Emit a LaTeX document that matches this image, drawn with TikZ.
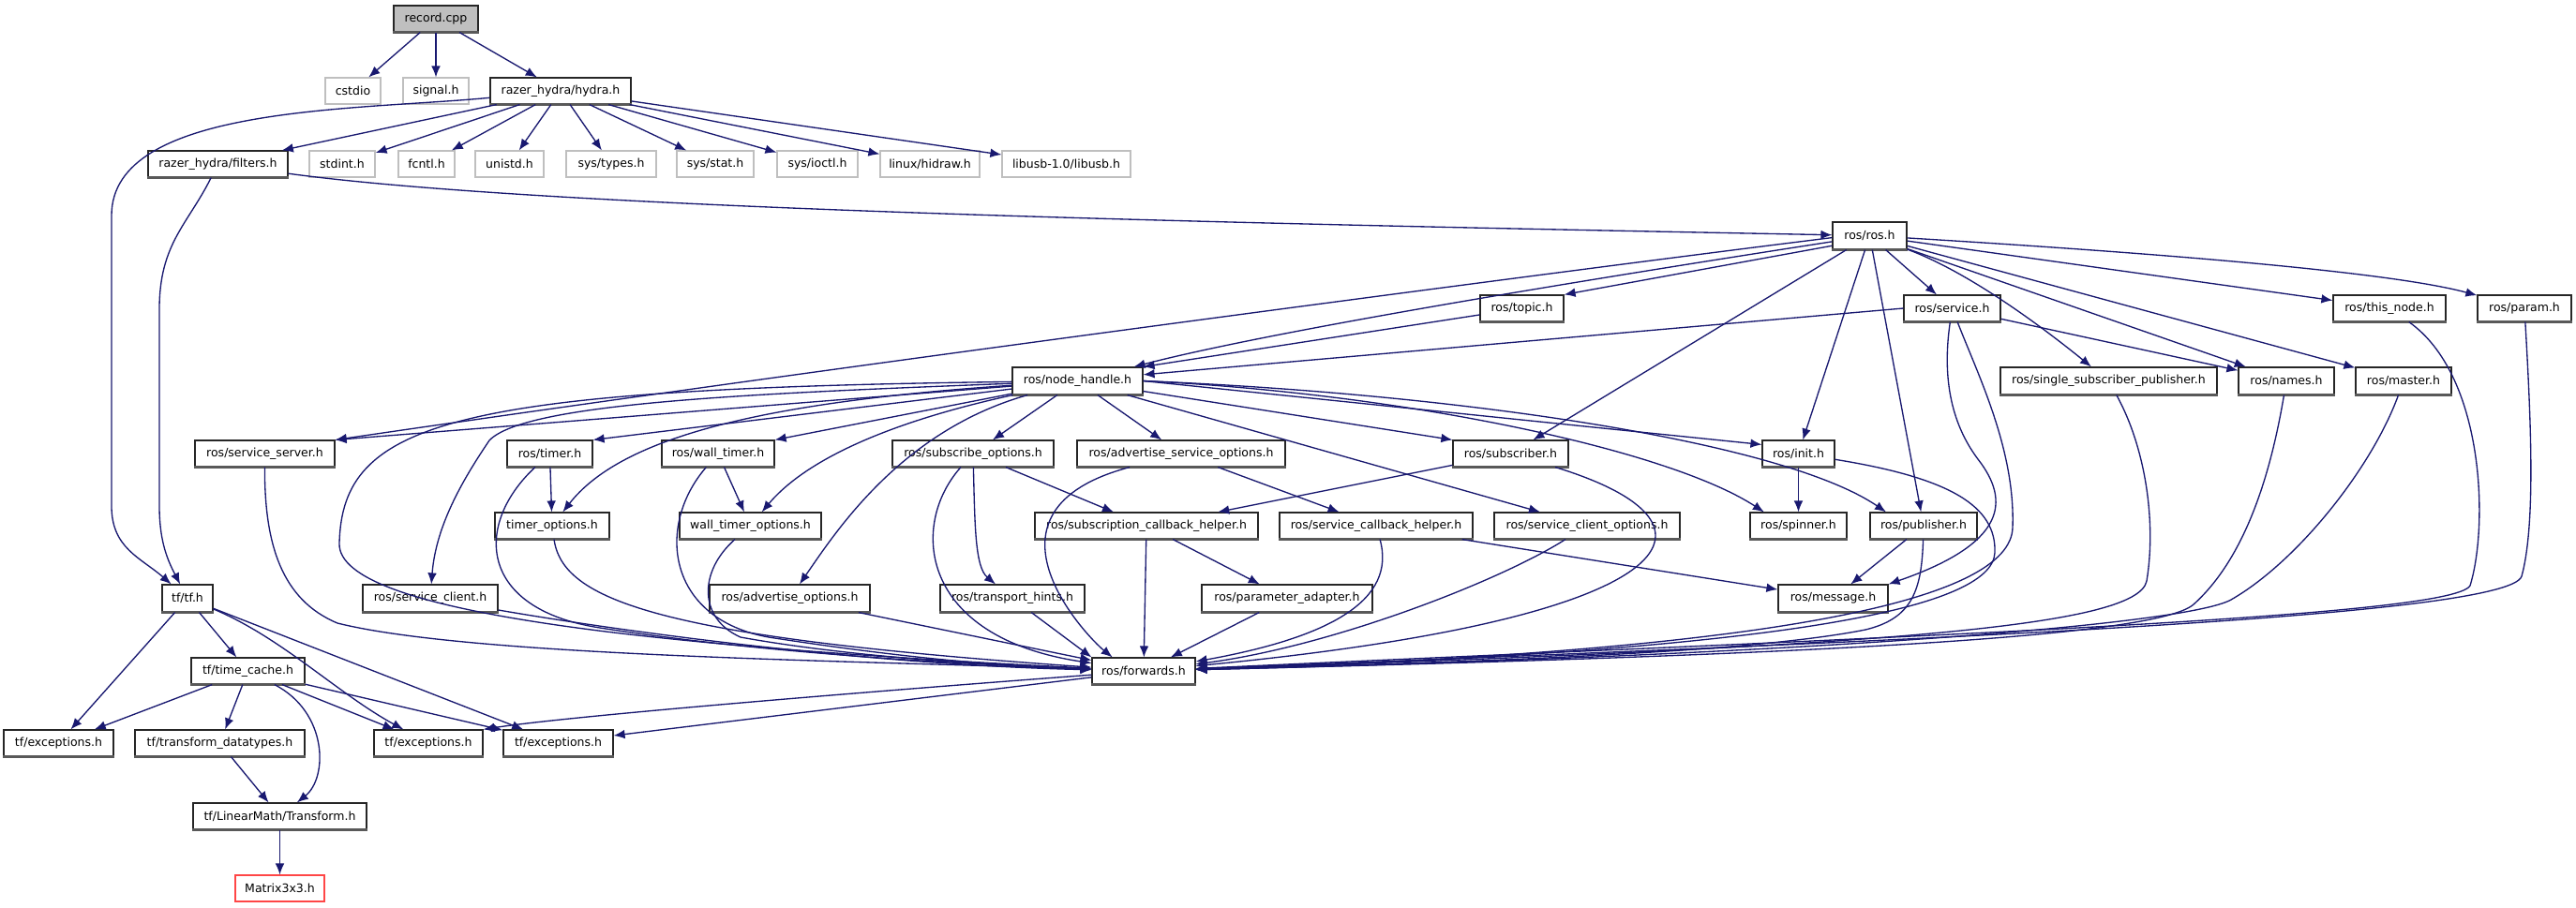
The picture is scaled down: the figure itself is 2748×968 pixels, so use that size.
\documentclass[tikz,border=0pt]{standalone}
\usepackage{fontspec}
\newfontfamily\dxfont{DejaVu Sans}
\usetikzlibrary{arrows.meta,calc}
\definecolor{edgec}{RGB}{25,25,112}
\definecolor{sysg}{RGB}{191,191,191}
\definecolor{redb}{RGB}{255,70,70}
\tikzset{
  basebox/.style={line width=0.35pt, fill=white, inner sep=0pt, font=\dxfont\fontsize{3.75pt}{4.5pt}\selectfont},
  hdr/.style={basebox, draw=black!85,
    append after command={(\tikzlastnode.south west) edge[draw=black!65,line width=0.7pt,-] (\tikzlastnode.south east)}},
  sys/.style={basebox, draw=sysg},
  rootn/.style={hdr, fill=sysg},
  redn/.style={basebox, draw=redb},
  ed/.style={draw=edgec, line width=0.4pt, -{Latex[length=3.6pt,width=2.9pt]}},
}
\newcommand\bx[7][hdr]{%
  \pgfmathsetmacro\bxw{(#5-#3)*0.3}%
  \pgfmathsetmacro\bxh{(#6-#4)*0.3}%
  \node[#1, minimum width=\bxw pt, minimum height=\bxh pt] (#2) at ({(#3+#5)/2},{(#4+#6)/2}) {#7};}
\begin{document}
\begin{tikzpicture}[x=0.3pt,y=-0.3pt]
\path[use as bounding box, fill=white] (0,0) rectangle (2748,968);
% nodes
\bx[rootn]{record}{420}{6}{510}{34}{record.cpp}
\bx[sys]{cstdio}{347}{83}{406}{111}{cstdio}
\bx[sys]{signal}{430}{83}{500}{111}{signal.h}
\bx{hydra}{523}{83}{673}{111}{razer\_hydra/hydra.h}
\bx{filters}{158}{161}{307}{189}{razer\_hydra/filters.h}
\bx[sys]{stdint}{330}{161}{400}{189}{stdint.h}
\bx[sys]{fcntl}{425}{161}{485}{189}{fcntl.h}
\bx[sys]{unistd}{507}{161}{580}{189}{unistd.h}
\bx[sys]{systypes}{604}{161}{700}{189}{sys/types.h}
\bx[sys]{sysstat}{722}{161}{804}{189}{sys/stat.h}
\bx[sys]{sysioctl}{829}{161}{915}{189}{sys/ioctl.h}
\bx[sys]{hidraw}{939}{161}{1045}{189}{linux/hidraw.h}
\bx[sys]{libusb}{1069}{161}{1206}{189}{libusb-1.0/libusb.h}
\bx{ros}{1955}{237}{2034}{266}{ros/ros.h}
\bx{topic}{1579}{315}{1668}{343}{ros/topic.h}
\bx{service}{2031}{315}{2134}{343}{ros/service.h}
\bx{thisnode}{2489}{315}{2609}{343}{ros/this\_node.h}
\bx{param}{2643}{315}{2743}{343}{ros/param.h}
\bx{nh}{1080}{392}{1219}{421}{ros/node\_handle.h}
\bx{ssp}{2134}{392}{2365}{421}{ros/single\_subscriber\_publisher.h}
\bx{names}{2388}{392}{2490}{421}{ros/names.h}
\bx{master}{2513}{392}{2615}{421}{ros/master.h}
\bx{ssrv}{208}{470}{357}{498}{ros/service\_server.h}
\bx{timer}{541}{470}{632}{498}{ros/timer.h}
\bx{wtimer}{706}{470}{826}{498}{ros/wall\_timer.h}
\bx{subopt}{952}{470}{1124}{498}{ros/subscribe\_options.h}
\bx{advsrvopt}{1149}{470}{1371}{498}{ros/advertise\_service\_options.h}
\bx{subscriber}{1550}{470}{1673}{498}{ros/subscriber.h}
\bx{init}{1880}{470}{1957}{498}{ros/init.h}
\bx{timeropt}{528}{547}{650}{575}{timer\_options.h}
\bx{wtimeropt}{725}{547}{876}{575}{wall\_timer\_options.h}
\bx{subcb}{1104}{547}{1342}{575}{ros/subscription\_callback\_helper.h}
\bx{srvcb}{1365}{547}{1571}{575}{ros/service\_callback\_helper.h}
\bx{srvclopt}{1594}{547}{1792}{575}{ros/service\_client\_options.h}
\bx{spinner}{1867}{547}{1970}{575}{ros/spinner.h}
\bx{publisher}{1995}{547}{2109}{575}{ros/publisher.h}
\bx{tf}{173}{624}{227}{653}{tf/tf.h}
\bx{srvcl}{387}{624}{531}{653}{ros/service\_client.h}
\bx{advopt}{757}{624}{928}{653}{ros/advertise\_options.h}
\bx{transp}{1003}{624}{1157}{653}{ros/transport\_hints.h}
\bx{padapt}{1282}{624}{1464}{653}{ros/parameter\_adapter.h}
\bx{message}{1897}{624}{2014}{653}{ros/message.h}
\bx{timecache}{204}{702}{325}{730}{tf/time\_cache.h}
\bx{fwd}{1165}{702}{1275}{730}{ros/forwards.h}
\bx{exca}{4}{779}{121}{807}{tf/exceptions.h}
\bx{tdt}{144}{779}{325}{807}{tf/transform\_datatypes.h}
\bx{excb}{399}{779}{515}{807}{tf/exceptions.h}
\bx{excc}{537}{779}{654}{807}{tf/exceptions.h}
\bx{transform}{206}{857}{391}{885}{tf/LinearMath/Transform.h}
\bx[redn]{matrix}{251}{934}{346}{962}{Matrix3x3.h}
% record / hydra
\draw[ed] (record) -- (cstdio);
\draw[ed] (record) -- (signal);
\draw[ed] (record) -- (hydra);
\draw[ed] (hydra) .. controls (380,118) and (119,112) .. (119,230) -- (119,540) .. controls (119,585) and (150,595) .. (tf);
\draw[ed] (hydra) -- (filters);
\foreach \n in {stdint,fcntl,unistd,systypes,sysstat,sysioctl,hidraw,libusb}
  \draw[ed] (hydra) -- (\n);
\draw[ed] (filters) .. controls (200,240) and (170,260) .. (170,330) -- (170,540) .. controls (170,580) and (180,600) .. (tf);
\draw[ed] (filters) .. controls (600,225) and (1400,240) .. (ros);
% ros
\draw[ed] (ros.183) .. controls (1700,285) and (900,390) .. (ssrv.north east);
\draw[ed] (ros.189) .. controls (1650,305) and (1350,355) .. ([xshift=-3pt]nh.north east);
\draw[ed] (ros.195) -- (topic.north east);
\draw[ed] (ros) -- (subscriber);
\draw[ed] (ros) -- (init);
\draw[ed] (ros) -- (publisher);
\draw[ed] (ros) -- (service);
\draw[ed] (ros) .. controls (2100,290) and (2180,350) .. (ssp);
\draw[ed] (ros) -- (names);
\draw[ed] (ros) -- (master);
\draw[ed] (ros) -- (thisnode);
\draw[ed] (ros) .. controls (2300,270) and (2550,290) .. (param);
\draw[ed] (topic) -- (nh.north east);
\draw[ed] (service.west) -- ([yshift=2pt]nh.east);
\draw[ed] (service) -- (names);
\draw[ed] (service) .. controls (2072,400) and (2080,450) .. (2110,490) .. controls (2145,535) and (2140,580) .. (message.north east);
% node_handle
\draw[ed] (nh) -- (ssrv.north east);
\draw[ed] (nh) -- (timer.north east);
\draw[ed] (nh) -- (wtimer.north east);
\draw[ed] (nh) .. controls (800,430) and (660,470) .. (timeropt);
\draw[ed] (nh) .. controls (950,450) and (860,490) .. (wtimeropt);
\draw[ed] (nh) .. controls (800,420) and (560,430) .. (522,470) .. controls (495,510) and (465,560) .. (srvcl);
\draw[ed] (nh) .. controls (960,460) and (890,570) .. (advopt);
\draw[ed] (nh) .. controls (480,415) and (365,450) .. (362,580) .. controls (360,655) and (700,690) .. (fwd);
\draw[ed] (nh) -- (subopt);
\draw[ed] (nh) -- (advsrvopt);
\draw[ed] (nh) -- (subscriber.north west);
\draw[ed] (nh.east) -- ([yshift=-1.5pt]init.north west);
\draw[ed] (nh.east) .. controls (1500,420) and (1780,480) .. ([xshift=-11pt]spinner.north);
\draw[ed] (nh.east) .. controls (1550,420) and (1900,470) .. ([xshift=-12pt]publisher.north);
\draw[ed] (nh) -- ([xshift=-15pt]srvclopt.north);
% middle
\draw[ed] (subscriber) -- ([xshift=-13pt]subcb.north east);
\draw[ed] (subopt) -- (subcb);
\draw[ed] (subopt) .. controls (1040,560) and (1040,605) .. (transp);
\draw[ed] (advsrvopt) -- (srvcb);
\draw[ed] (subcb) -- (padapt);
\draw[ed] (srvcb) -- (message);
\draw[ed] (publisher) -- (message);
\draw[ed] (init) -- (spinner);
\draw[ed] (timer) -- (timeropt);
\draw[ed] (wtimer) -- (wtimeropt);
% into forwards, from the left
\draw[ed] (ssrv) .. controls (282,580) and (300,640) .. (360,665) .. controls (500,700) and (900,705) .. (fwd);
\draw[ed] (timer) .. controls (505,560) and (510,650) .. (640,670) .. controls (800,695) and (1000,708) .. (fwd);
\draw[ed] (timeropt) .. controls (600,640) and (700,680) .. (fwd);
\draw[ed] (wtimer) .. controls (700,560) and (710,660) .. (820,680) .. controls (950,700) and (1050,710) .. (fwd);
\draw[ed] (wtimeropt) .. controls (745,610) and (745,660) .. (790,680) .. controls (900,700) and (1050,710) .. (fwd);
\draw[ed] (srvcl) .. controls (700,680) and (950,710) .. (fwd);
\draw[ed] (advopt) -- (fwd);
\draw[ed] (subopt) .. controls (970,560) and (980,680) .. (fwd);
% from the top
\draw[ed] (advsrvopt) .. controls (1030,545) and (1160,680) .. ([xshift=-10pt]fwd.north);
\draw[ed] (transp) -- (fwd.north west);
\draw[ed] (subcb) -- (fwd);
\draw[ed] (padapt) -- (fwd);
% from the right
\draw[ed] (srvcb) .. controls (1490,640) and (1420,680) .. (fwd);
\draw[ed] (srvclopt) .. controls (1600,620) and (1420,690) .. (fwd);
\draw[ed] (subscriber) .. controls (1860,560) and (1800,660) .. (fwd);
\draw[ed] (publisher) .. controls (2050,630) and (2040,660) .. (1990,672) .. controls (1850,700) and (1500,708) .. (fwd);
\draw[ed] (init) .. controls (2080,510) and (2130,540) .. (2128,590) .. controls (2125,650) and (1900,695) .. (fwd);
\draw[ed] (service) .. controls (2110,400) and (2150,480) .. (2147,563) .. controls (2145,640) and (1900,695) .. (fwd);
\draw[ed] (ssp) .. controls (2290,480) and (2300,560) .. (2290,620) .. controls (2280,670) and (2000,690) .. (fwd);
\draw[ed] (names) .. controls (2420,520) and (2390,600) .. (2340,645) .. controls (2300,681) and (1900,700) .. (fwd);
\draw[ed] (master) .. controls (2530,500) and (2450,600) .. (2380,640) .. controls (2330,668) and (1900,700) .. (fwd);
\draw[ed] (thisnode) .. controls (2650,400) and (2655,560) .. (2635,625) .. controls (2615,660) and (2000,680) .. (fwd);
\draw[ed] (param) .. controls (2700,450) and (2705,560) .. (2690,615) .. controls (2675,660) and (2000,685) .. (fwd);
% out of forwards
\draw[ed] (fwd) .. controls (900,740) and (600,765) .. (excb.north east);
\draw[ed] (fwd) -- ([yshift=2.4pt]excc.east);
% tf
\draw[ed] (tf) -- (exca);
\draw[ed] (tf) -- (timecache);
\draw[ed] (tf) .. controls (300,680) and (360,740) .. (excb);
\draw[ed] (tf) -- (excc);
\draw[ed] (timecache) -- (exca);
\draw[ed] (timecache) -- (tdt);
\draw[ed] (timecache) .. controls (350,760) and (350,830) .. (transform);
\draw[ed] (timecache) -- (excb);
\draw[ed] (timecache) -- (excc);
\draw[ed] (tdt) -- (transform);
\draw[ed] (transform) -- (matrix);
\end{tikzpicture}
\end{document}
